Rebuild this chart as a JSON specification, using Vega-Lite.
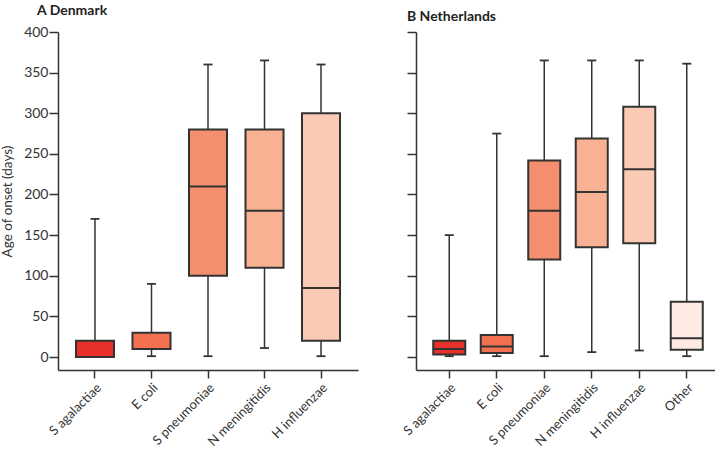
{
  "$schema": "https://vega.github.io/schema/vega-lite/v6.json",
  "background": "white",
  "padding": {"left": 0, "top": 4, "right": 0, "bottom": 0},
  "config": {
    "font": "Lato",
    "view": {"stroke": null},
    "concat": {"spacing": 43},
    "axis": {
      "grid": false,
      "domainColor": "#333333",
      "domainWidth": 1.5,
      "tickColor": "#333333",
      "tickWidth": 1.5,
      "tickSize": 8,
      "labelColor": "#333333",
      "labelFontSize": 14,
      "titleColor": "#333333",
      "titleFontSize": 13.5,
      "titleFontWeight": "normal"
    },
    "title": {"anchor": "start", "fontSize": 14, "fontWeight": "bold", "color": "#222222", "offset": 7, "frame": "group"}
  },
  "datasets": {
    "dk": [
      {"org": "S agalactiae", "min": 0, "q1": 0, "median": 0, "q3": 20, "max": 170},
      {"org": "E coli", "min": 1, "q1": 10, "median": 10, "q3": 30, "max": 90},
      {"org": "S pneumoniae", "min": 1, "q1": 100, "median": 210, "q3": 280, "max": 360},
      {"org": "N meningitidis", "min": 11, "q1": 110, "median": 180, "q3": 280, "max": 365},
      {"org": "H influenzae", "min": 1, "q1": 20, "median": 85, "q3": 300, "max": 360}
    ],
    "nl": [
      {"org": "S agalactiae", "min": 1, "q1": 3, "median": 10, "q3": 20, "max": 150},
      {"org": "E coli", "min": 1, "q1": 5, "median": 13, "q3": 27, "max": 275},
      {"org": "S pneumoniae", "min": 1, "q1": 120, "median": 180, "q3": 242, "max": 365},
      {"org": "N meningitidis", "min": 6, "q1": 135, "median": 203, "q3": 269, "max": 365},
      {"org": "H influenzae", "min": 8, "q1": 140, "median": 231, "q3": 308, "max": 365},
      {"org": "Other", "min": 1, "q1": 9, "median": 23, "q3": 68, "max": 361}
    ]
  },
  "hconcat": [
    {
      "width": 300,
      "height": 338,
      "title": {"text": "A  Denmark", "dx": -21},
      "data": {"name": "dk"},
      "encoding": {
        "x": {
          "field": "org", "type": "nominal",
          "sort": ["S agalactiae", "E coli", "S pneumoniae", "N meningitidis", "H influenzae"],
          "scale": {"paddingInner": 0.327, "paddingOuter": 0.318},
          "axis": {"title": null, "labelAngle": -45, "labelAlign": "right", "labelBaseline": "top", "labelPadding": 3, "labelFontSize": 13}
        }
      },
      "layer": [
        {
          "mark": {"type": "rule", "color": "#333333", "strokeWidth": 1.5},
          "encoding": {
            "y": {"field": "min", "type": "quantitative",
              "scale": {"domain": [-16, 400], "nice": false, "zero": false},
              "axis": {"title": "Age of onset (days)", "values": [0, 50, 100, 150, 200, 250, 300, 350, 400], "tickSize": 9, "labelPadding": 1, "titlePadding": 9}},
            "y2": {"field": "max"}
          }
        },
        {
          "mark": {"type": "tick", "color": "#333333", "size": 9, "thickness": 1.8, "opacity": 1},
          "encoding": {"y": {"field": "min", "type": "quantitative"}}
        },
        {
          "mark": {"type": "tick", "color": "#333333", "size": 9, "thickness": 1.8, "opacity": 1},
          "encoding": {"y": {"field": "max", "type": "quantitative"}}
        },
        {
          "mark": {"type": "bar", "stroke": "#333333", "strokeWidth": 2, "fillOpacity": 1},
          "encoding": {
            "y": {"field": "q1", "type": "quantitative"},
            "y2": {"field": "q3"},
            "fill": {"field": "org", "type": "nominal", "legend": null,
              "scale": {"domain": ["S agalactiae", "E coli", "S pneumoniae", "N meningitidis", "H influenzae", "Other"],
                "range": ["#E8302A", "#F37150", "#F48E6E", "#F9B193", "#FACAB4", "#FEECE4"]}}
          }
        },
        {
          "mark": {"type": "tick", "color": "#333333", "size": 38, "thickness": 2, "opacity": 1},
          "encoding": {"y": {"field": "median", "type": "quantitative"}}
        }
      ]
    },
    {
      "width": 304,
      "height": 338,
      "title": {"text": "B  Netherlands", "dx": -9},
      "data": {"name": "nl"},
      "encoding": {
        "x": {
          "field": "org", "type": "nominal",
          "sort": ["S agalactiae", "E coli", "S pneumoniae", "N meningitidis", "H influenzae", "Other"],
          "scale": {"paddingInner": 0.326, "paddingOuter": 0.363},
          "axis": {"title": null, "labelAngle": -45, "labelAlign": "right", "labelBaseline": "top", "labelPadding": 3, "labelFontSize": 13}
        }
      },
      "layer": [
        {
          "mark": {"type": "rule", "color": "#333333", "strokeWidth": 1.5},
          "encoding": {
            "y": {"field": "min", "type": "quantitative",
              "scale": {"domain": [-16, 400], "nice": false, "zero": false},
              "axis": {"title": null, "labels": false, "tickSize": 9, "values": [0, 50, 100, 150, 200, 250, 300, 350, 400]}},
            "y2": {"field": "max"}
          }
        },
        {
          "mark": {"type": "tick", "color": "#333333", "size": 9, "thickness": 1.8, "opacity": 1},
          "encoding": {"y": {"field": "min", "type": "quantitative"}}
        },
        {
          "mark": {"type": "tick", "color": "#333333", "size": 9, "thickness": 1.8, "opacity": 1},
          "encoding": {"y": {"field": "max", "type": "quantitative"}}
        },
        {
          "mark": {"type": "bar", "stroke": "#333333", "strokeWidth": 2, "fillOpacity": 1},
          "encoding": {
            "y": {"field": "q1", "type": "quantitative"},
            "y2": {"field": "q3"},
            "fill": {"field": "org", "type": "nominal", "legend": null,
              "scale": {"domain": ["S agalactiae", "E coli", "S pneumoniae", "N meningitidis", "H influenzae", "Other"],
                "range": ["#E8302A", "#F37150", "#F48E6E", "#F9B193", "#FACAB4", "#FEECE4"]}}
          }
        },
        {
          "mark": {"type": "tick", "color": "#333333", "size": 32, "thickness": 2, "opacity": 1},
          "encoding": {"y": {"field": "median", "type": "quantitative"}}
        }
      ]
    }
  ]
}
